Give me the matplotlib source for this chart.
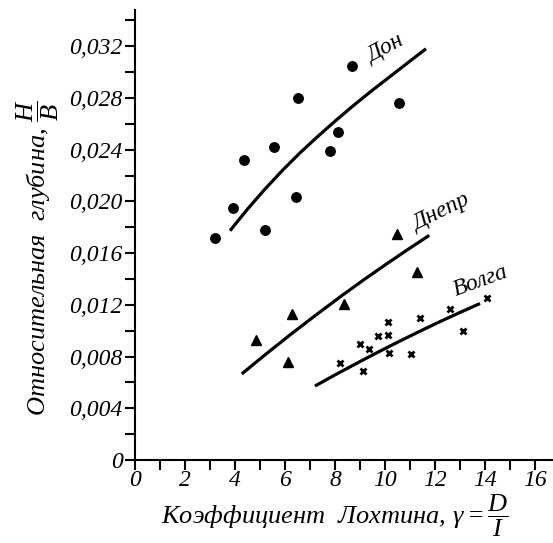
import matplotlib.pyplot as plt
from matplotlib.ticker import MultipleLocator, FuncFormatter

plt.rcParams['font.family'] = ['Liberation Serif', 'DejaVu Serif']
plt.rcParams['font.style'] = 'italic'
plt.rcParams['mathtext.fontset'] = 'custom'
plt.rcParams['mathtext.rm'] = 'Liberation Serif:italic'
plt.rcParams['mathtext.it'] = 'Liberation Serif:italic'

# observed points
don_x = [3.19, 3.91, 4.37, 5.21, 5.56, 6.51, 6.44, 7.80, 8.11, 8.67, 10.55]
don_y = [0.0172, 0.0195, 0.0232, 0.0178, 0.0242, 0.0280, 0.0203, 0.0239, 0.0254, 0.0305, 0.0276]

dnepr_x = [4.84, 6.29, 6.11, 8.36, 10.48, 11.27]
dnepr_y = [0.0093, 0.0113, 0.0076, 0.0121, 0.0175, 0.0145]

volga_x = [8.20, 9.11, 9.00, 9.36, 9.72, 10.11, 10.12, 10.17, 11.04, 11.40, 12.60, 13.13, 14.09]
volga_y = [0.0075, 0.0069, 0.0090, 0.0086, 0.0096, 0.0097, 0.0107, 0.0083, 0.0082, 0.0110, 0.0117, 0.0100, 0.0125]

# trend curves
don_cx = [3.80, 4.50, 5.20, 5.90, 6.60, 7.30, 8.00, 8.70, 9.40, 10.10, 10.80, 11.64]
don_cy = [0.01773, 0.01940, 0.02095, 0.02240, 0.02375, 0.02500, 0.02620, 0.02735,
          0.02845, 0.02950, 0.03055, 0.03180]

dnepr_cx = [4.27, 5.20, 6.20, 7.25, 8.33, 9.20, 10.07, 10.90, 11.77]
dnepr_cy = [0.00665, 0.00813, 0.00967, 0.01123, 0.01279, 0.01400, 0.01517, 0.01626, 0.01737]

volga_cx = [7.20, 8.05, 8.90, 9.75, 10.60, 11.40, 12.20, 13.00, 13.80]
volga_cy = [0.00572, 0.00663, 0.00751, 0.00837, 0.00920, 0.00996, 0.01070, 0.01141, 0.01210]

fig = plt.figure(figsize=(5.53, 5.43), dpi=100)
ax = fig.add_axes([0.2441, 0.1529, 0.7559, 0.8287])

for cx, cy in [(don_cx, don_cy), (dnepr_cx, dnepr_cy), (volga_cx, volga_cy)]:
    ax.plot(cx, cy, color='black', lw=2.3, solid_capstyle='butt', solid_joinstyle='round')

ax.plot(don_x, don_y, 'o', color='black', ms=6.8, clip_on=False)
ax.plot(dnepr_x, dnepr_y, '^', color='black', ms=7.5)
ax.plot(volga_x, volga_y, 'x', color='black', ms=5, mew=2)

ax.text(10.04, 0.0318, 'Дон', fontsize=17, rotation=28, ha='center', va='center')
ax.text(12.28, 0.0192, 'Днепр', fontsize=17, rotation=26, ha='center', va='center')
ax.text(13.84, 0.0138, 'Волга', fontsize=17, rotation=20, ha='center', va='center')

ax.set_xlim(0, 16.72)
ax.set_ylim(0, 0.0348)
for s in ['top', 'right']:
    ax.spines[s].set_visible(False)
for s in ['left', 'bottom']:
    ax.spines[s].set_linewidth(1.5)

ax.xaxis.set_major_locator(MultipleLocator(2))
ax.xaxis.set_minor_locator(MultipleLocator(1))
ax.yaxis.set_major_locator(MultipleLocator(0.004))
ax.yaxis.set_minor_locator(MultipleLocator(0.002))
ax.yaxis.set_major_formatter(FuncFormatter(lambda v, p: '0' if v == 0 else f'{v:.3f}'.replace('.', ',')))
ax.tick_params(which='both', direction='out', length=7, width=1.5, labelsize=17)
ax.tick_params(axis='x', pad=0)
ax.tick_params(axis='y', pad=2)

ax.set_xlabel(r'Коэффициент  Лохтина, $\gamma=\dfrac{D}{I}$', fontsize=19)
ax.set_ylabel(r'Относительная  глубина, $\dfrac{H}{B}$', fontsize=19)
ax.xaxis.set_label_coords(0.478, -0.072)
ax.yaxis.set_label_coords(-0.178, 0.45)

fig.savefig('out.png', dpi=100)
